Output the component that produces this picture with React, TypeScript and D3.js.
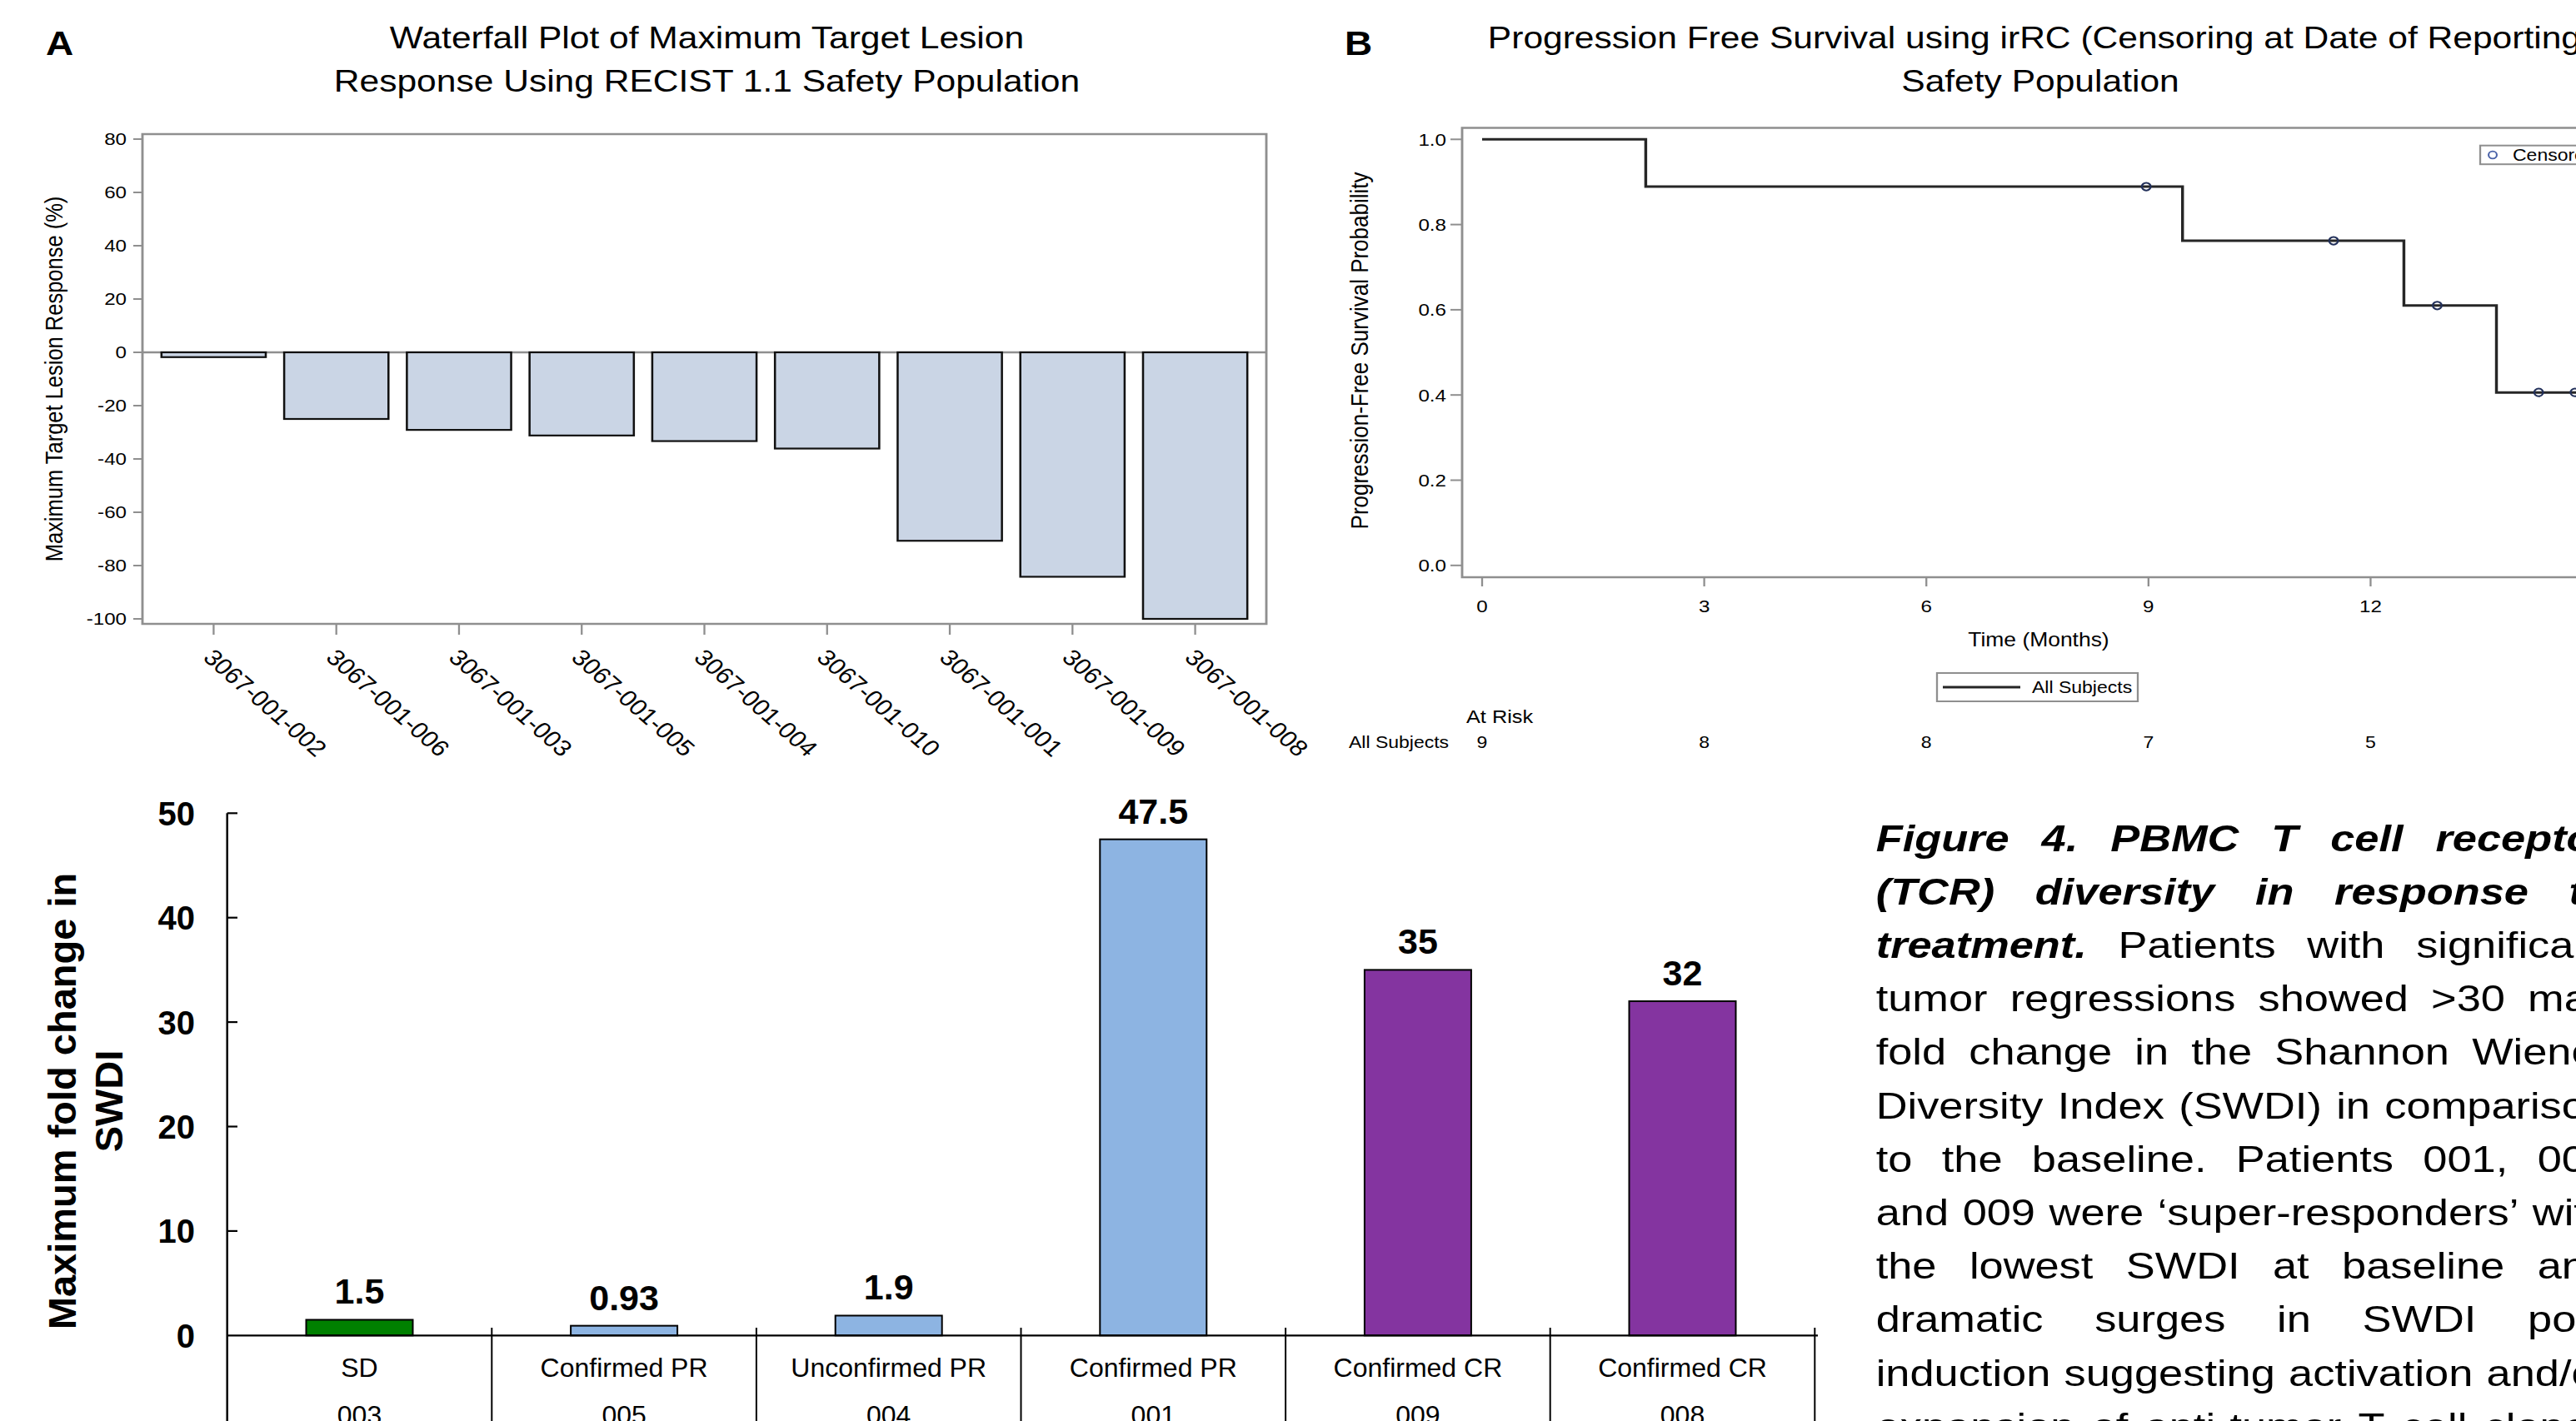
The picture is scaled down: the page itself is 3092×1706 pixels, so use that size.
import React, { useMemo } from 'react';
import * as d3 from 'd3';

const W = 3092;
const H = 1706;
// panels A and B are horizontally stretched in the source figure, the caption a bit more
const SX = 1.15;
const SXC = 1.19;
const px = (x: number) => x / SX;
const FONT = '"Liberation Sans", Arial, Helvetica, sans-serif';

// ---- Panel A: waterfall
const subjects = [
  '3067-001-002', '3067-001-006', '3067-001-003', '3067-001-005', '3067-001-004',
  '3067-001-010', '3067-001-001', '3067-001-009', '3067-001-008',
];
const lesionResponse = [-1.8, -25, -29.1, -31.2, -33.3, -36.1, -70.7, -84.2, -100];
const responseTicks = [80, 60, 40, 20, 0, -20, -40, -60, -80, -100];

// ---- Panel B: Kaplan-Meier
const kmTimes = [0, 2.21, 9.46, 12.45, 13.7];
const kmSurvival = [1.0, 0.889, 0.762, 0.61, 0.406];
const kmLastTime = 16;
const censorTimes = [8.97, 11.5, 12.9, 14.27, 14.76];
const monthTicks = [0, 3, 6, 9, 12, 15];
const probTicks = [0, 0.2, 0.4, 0.6, 0.8, 1.0];
const riskTimes = [0, 3, 6, 9, 12];
const riskCounts = [9, 8, 8, 7, 5];

// ---- Panel C: SWDI fold change
const patientIds = ['003', '005', '004', '001', '009', '008'];
const responses = ['SD', 'Confirmed PR', 'Unconfirmed PR', 'Confirmed PR', 'Confirmed CR', 'Confirmed CR'];
const swdiFold = [1.5, 0.93, 1.9, 47.5, 35, 32];
const swdiLabels = ['1.5', '0.93', '1.9', '47.5', '35', '32'];
const foldTicks = [0, 10, 20, 30, 40, 50];

// ---- caption (bold italic flag per segment)
const caption: [string, boolean][][] = [
  [['Figure 4. PBMC T cell receptor', true]],
  [['(TCR) diversity in response to', true]],
  [['treatment.', true], ['Patients with significant', false]],
  [['tumor regressions showed >30 max', false]],
  [['fold change in the Shannon Wiener', false]],
  [['Diversity Index (SWDI) in comparison', false]],
  [['to the baseline. Patients 001, 008', false]],
  [['and 009 were \u2018super-responders\u2019 with', false]],
  [['the lowest SWDI at baseline and', false]],
  [['dramatic surges in SWDI post', false]],
  [['induction suggesting activation and/or', false]],
  [['expansion of anti-tumor T cell clones', false]],
];

const responseColor = d3.scaleOrdinal<string, string>()
  .domain(['SD', 'Unconfirmed PR', 'Confirmed PR', 'Confirmed CR'])
  .range(['#008000', '#8db4e2', '#8db4e2', '#8434a0']);

const FRAME = '#8f8f8f';

export default function App() {
  // panel A scales (pre-stretch x units)
  const xA = d3.scaleBand<string>().domain(subjects).range([px(171), px(1520)])
    .paddingInner(0.15).paddingOuter(0.155);
  const yA = d3.scaleLinear().domain([-100, 80]).range([743, 167]);

  // panel B scales
  const xB = d3.scaleLinear().domain([0, 15]).range([px(1779), px(1779 + 15 * 88.87)]);
  const yB = d3.scaleLinear().domain([0, 1]).range([678.8, 167.3]);
  const kmPts: [number, number][] = kmTimes.map((t, i) => [t, kmSurvival[i]]);
  kmPts.push([kmLastTime, kmSurvival[kmSurvival.length - 1]]);
  const kmLine = d3.line<[number, number]>().x(d => xB(d[0])).y(d => yB(d[1])).curve(d3.curveStepAfter);
  const survAt = (t: number) => kmSurvival[d3.bisectRight(kmTimes, t) - 1];

  // panel C scales
  const step = 317.6;
  const xC = d3.scaleBand<string>().domain(patientIds).range([272.7, 272.7 + 6 * step]).padding(0);
  const yC = d3.scaleLinear().domain([0, 50]).range([1603.3, 976.3]);
  const barW = xC.bandwidth() * 0.403;

  // caption layout, justified to the column width
  const captionLayout = useMemo(() => {
    const ctx = document.createElement('canvas').getContext('2d')!;
    const fsz = 44;
    const fontOf = (b: boolean) => `${b ? 'italic bold ' : ''}${fsz}px "Liberation Sans"`;
    const x0 = 2251.7 / SXC;
    const width = (3133 - 2251.7) / SXC;
    return caption.map(segs => {
      const words: { w: string; b: boolean; len: number }[] = [];
      segs.forEach(([t, b]) => {
        ctx.font = fontOf(b);
        t.split(' ').forEach(w => words.push({ w, b, len: ctx.measureText(w).width }));
      });
      const total = d3.sum(words, d => d.len);
      const gap = (width - total) / (words.length - 1);
      let x = x0;
      return words.map(d => {
        const out = { ...d, x };
        x += d.len + gap;
        return out;
      });
    });
  }, []);

  return (
    <div style={{ position: 'fixed', left: 0, top: 0, width: W, height: H, overflow: 'hidden', background: '#fff' }}>
      <svg width={W} height={H} style={{ display: 'block' }} fontFamily={FONT}>
        <rect width={W} height={H} fill="#fff" />

        <g transform={`scale(${SX},1)`}>
          {/* ---------- Panel A ---------- */}
          <text x={px(55)} y={66} fontSize={40} fontWeight="bold">A</text>
          <text x={px(848.5)} y={58} fontSize={37} textAnchor="middle">Waterfall Plot of Maximum Target Lesion</text>
          <text x={px(848.5)} y={110} fontSize={37} textAnchor="middle">Response Using RECIST 1.1 Safety Population</text>

          {responseTicks.map(v => (
            <g key={v}>
              <line x1={px(160)} x2={px(171)} y1={yA(v)} y2={yA(v)} stroke={FRAME} strokeWidth={2} />
              <text x={px(152)} y={yA(v) + 7.5} fontSize={21} textAnchor="end">{v}</text>
            </g>
          ))}
          <text transform={`translate(${px(75)},455) rotate(-90)`} fontSize={25.5} textAnchor="middle">
            Maximum Target Lesion Response (%)
          </text>

          <line x1={px(171)} x2={px(1520)} y1={yA(0)} y2={yA(0)} stroke={FRAME} strokeWidth={2.5} />
          {subjects.map((s, i) => (
            <rect key={s} x={xA(s)} width={xA.bandwidth()}
              y={yA(0)} height={yA(lesionResponse[i]) - yA(0)}
              fill="#cad5e5" stroke="#111" strokeWidth={2.2} />
          ))}
          <rect x={px(171)} y={161} width={px(1520) - px(171)} height={749 - 161}
            fill="none" stroke={FRAME} strokeWidth={2.5} />

          {subjects.map(s => {
            const cx = xA(s)! + xA.bandwidth() / 2;
            return (
              <g key={s}>
                <line x1={cx} x2={cx} y1={750} y2={762} stroke={FRAME} strokeWidth={2} />
                <text transform={`translate(${cx - px(14)},791) rotate(45)`} fontSize={27}>{s}</text>
              </g>
            );
          })}

          {/* ---------- Panel B ---------- */}
          <text x={px(1614)} y={66} fontSize={40} fontWeight="bold">B</text>
          <text x={px(2449)} y={58} fontSize={37} textAnchor="middle">
            Progression Free Survival using irRC (Censoring at Date of Reporting)
          </text>
          <text x={px(2449)} y={110} fontSize={37} textAnchor="middle">Safety Population</text>

          <rect x={px(1755)} y={153.5} width={px(3300) - px(1755)} height={693 - 153.5}
            fill="none" stroke={FRAME} strokeWidth={2.5} />
          {probTicks.map(v => (
            <g key={v}>
              <line x1={px(1741)} x2={px(1755)} y1={yB(v)} y2={yB(v)} stroke={FRAME} strokeWidth={2} />
              <text x={px(1736)} y={yB(v) + 7.5} fontSize={21} textAnchor="end">{v.toFixed(1)}</text>
            </g>
          ))}
          {monthTicks.map(t => (
            <g key={t}>
              <line x1={xB(t)} x2={xB(t)} y1={694} y2={704} stroke={FRAME} strokeWidth={2} />
              <text x={xB(t)} y={735} fontSize={21} textAnchor="middle">{t}</text>
            </g>
          ))}
          <text x={px(2447)} y={776} fontSize={23} textAnchor="middle">Time (Months)</text>
          <text transform={`translate(${px(1642)},421) rotate(-90)`} fontSize={26} textAnchor="middle">
            Progression-Free Survival Probability
          </text>

          <path d={kmLine(kmPts)!} fill="none" stroke="#262626" strokeWidth={3} />
          {censorTimes.map(t => (
            <circle key={t} cx={xB(t)} cy={yB(survAt(t))} r={4.6} fill="none" stroke="#22305a" strokeWidth={2} />
          ))}

          <rect x={px(2977)} y={174.7} width={px(3300) - px(2977)} height={22.5} fill="#fff" stroke={FRAME} strokeWidth={2} />
          <circle cx={px(2992)} cy={186} r={4.3} fill="none" stroke="#4a62a8" strokeWidth={1.8} />
          <text x={px(3016)} y={193.5} fontSize={20}>Censored</text>

          <rect x={px(2325)} y={808} width={px(2566) - px(2325)} height={34} fill="#fff" stroke={FRAME} strokeWidth={2} />
          <line x1={px(2332)} x2={px(2425)} y1={825} y2={825} stroke="#262626" strokeWidth={3} />
          <text x={px(2439)} y={832} fontSize={20}>All Subjects</text>

          <text x={px(1760)} y={868} fontSize={22}>At Risk</text>
          <text x={px(1619)} y={898} fontSize={20}>All Subjects</text>
          {riskTimes.map((t, i) => (
            <text key={t} x={xB(t)} y={898} fontSize={20} textAnchor="middle">{riskCounts[i]}</text>
          ))}
        </g>

        {/* ---------- caption ---------- */}
        <g transform={`scale(${SXC},1)`}>
          {captionLayout.map((words, i) => (
            <text key={i} y={1021.7 + 64.2 * i} fontSize={44}>
              {words.map((d, j) => (
                <tspan key={j} x={d.x} fontWeight={d.b ? 'bold' : 'normal'} fontStyle={d.b ? 'italic' : 'normal'}>
                  {d.w}
                </tspan>
              ))}
            </text>
          ))}
        </g>

        {/* ---------- Panel C ---------- */}
        <g>
          {patientIds.map((id, i) => {
            const x0 = xC(id)!;
            const cx = x0 + xC.bandwidth() / 2;
            return (
              <g key={id}>
                <rect x={cx - barW / 2} width={barW} y={yC(swdiFold[i])} height={yC(0) - yC(swdiFold[i])}
                  fill={responseColor(responses[i])} stroke="#000" strokeWidth={2} />
                <text x={cx} y={yC(swdiFold[i]) - 19} fontSize={43} fontWeight="bold" textAnchor="middle">
                  {swdiLabels[i]}
                </text>
                <text x={cx} y={1653} fontSize={32} textAnchor="middle">{responses[i]}</text>
                <text x={cx} y={1710} fontSize={32} textAnchor="middle">{id}</text>
                <line x1={x0 + xC.bandwidth()} x2={x0 + xC.bandwidth()} y1={1594} y2={H}
                  stroke="#000" strokeWidth={2} />
              </g>
            );
          })}
          <line x1={272.7} x2={2182} y1={yC(0)} y2={yC(0)} stroke="#000" strokeWidth={2.2} />
          <line x1={272.7} x2={272.7} y1={yC(50)} y2={H} stroke="#000" strokeWidth={2.5} />
          {foldTicks.map(v => (
            <g key={v}>
              {v > 0 && <line x1={272.7} x2={285} y1={yC(v)} y2={yC(v)} stroke="#000" strokeWidth={2.2} />}
              <text x={234} y={yC(v) + 14.5} fontSize={40} fontWeight="bold" textAnchor="end">{v}</text>
            </g>
          ))}
          <text transform="translate(90.7,1322) rotate(-90)" fontSize={47} fontWeight="bold" textAnchor="middle">
            Maximum fold change in
          </text>
          <text transform="translate(146.7,1322) rotate(-90)" fontSize={47} fontWeight="bold" textAnchor="middle">
            SWDI
          </text>
        </g>
      </svg>
    </div>
  );
}
